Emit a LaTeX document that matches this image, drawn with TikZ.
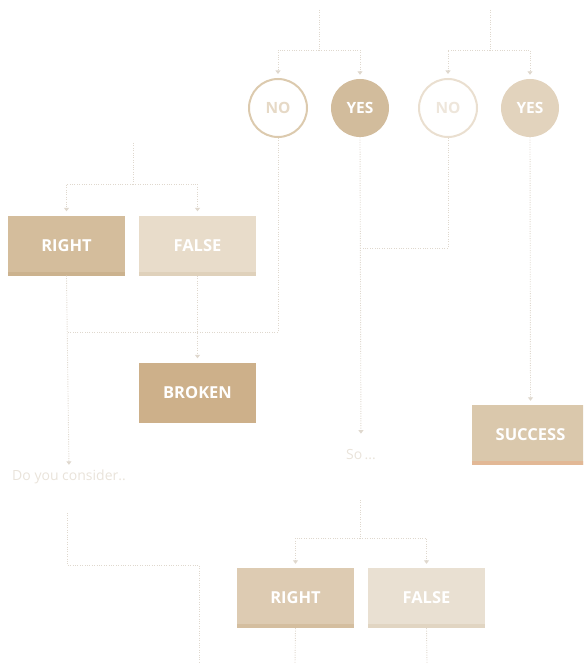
\documentclass[tikz,border=0pt]{standalone}
\usepackage{fontspec}
\setmainfont{Open Sans}
\usetikzlibrary{arrows.meta}
\definecolor{lnC}{HTML}{DFD8CE}
\definecolor{noA}{HTML}{DCCAAE}
\definecolor{noAtxt}{HTML}{E6D9C6}
\definecolor{yesA}{HTML}{D2BC9C}
\definecolor{noB}{HTML}{EADFD0}
\definecolor{noBtxt}{HTML}{EEE6DB}
\definecolor{yesB}{HTML}{E2D3BD}
\definecolor{rightA}{HTML}{D4BD9C}
\definecolor{rightAs}{HTML}{CBB28E}
\definecolor{falseA}{HTML}{E8DCCA}
\definecolor{falseAs}{HTML}{DFD1BB}
\definecolor{brokenC}{HTML}{CDB08A}
\definecolor{succC}{HTML}{DAC8AC}
\definecolor{succS}{HTML}{E2B896}
\definecolor{rightB}{HTML}{DDCBB2}
\definecolor{rightBs}{HTML}{D4BE9F}
\definecolor{falseB}{HTML}{E9E0D2}
\definecolor{falseBs}{HTML}{E1D5C2}
\definecolor{softtxt}{HTML}{E9E3DA}
\tikzset{
  conn/.style={draw=lnC, line width=0.9pt, dash pattern=on 1pt off 1.4pt},
  arr/.style={conn, -{Triangle[width=5pt,length=3.5pt,fill=lnC]}, shorten >=4pt},
  circ/.style={circle, minimum size=58pt, inner sep=0pt, font=\fontsize{15.5}{17}\selectfont\bfseries, text=white},
  boxs/.style={rectangle, minimum width=117pt, minimum height=60pt, inner sep=0pt, font=\fontsize{16.5}{19}\selectfont\bfseries, text=white},
  soft/.style={font=\fontsize{14}{16}\selectfont, text=softtxt, inner sep=1pt}
}
\begin{document}
\begin{tikzpicture}[x=1pt,y=-1pt]
\useasboundingbox (0,0) rectangle (583,663);
\clip (0,0) rectangle (583,663);
% circles
\node[circ, draw=noA, line width=2pt, text=noAtxt] (c1) at (278,108) {NO};
\node[circ, fill=yesA] (c2) at (360,108) {YES};
\node[circ, draw=noB, line width=2pt, text=noBtxt] (c3) at (448,108) {NO};
\node[circ, fill=yesB] (c4) at (530,108) {YES};
% boxes
\node[boxs, fill=rightA] (r1) at (66.5,245.5) {RIGHT};
\fill[rightAs] (r1.south west) rectangle ++(117,-4);
\node[boxs, fill=falseA] (f1) at (197.5,245.5) {FALSE};
\fill[falseAs] (f1.south west) rectangle ++(117,-4);
\node[boxs, fill=brokenC] (br) at (197.5,392.5) {BROKEN};
\node[boxs, fill=succC] (sc) at (530.5,435) {SUCCESS};
\fill[succS] (sc.south west) rectangle ++(117,-4);
\node[boxs, fill=rightB] (r2) at (295.5,598) {RIGHT};
\fill[rightBs] (r2.south west) rectangle ++(117,-4);
\node[boxs, fill=falseB] (f2) at (426.5,598) {FALSE};
\fill[falseBs] (f2.south west) rectangle ++(117,-4);
% texts
\node[soft] (dy) at (69,477) {Do you consider..};
\node[soft] (so) at (361,455) {So\,...};
% coordinates
\coordinate (t1) at (319,10);
\coordinate (j1) at (319,50);
\coordinate (t2) at (490,10);
\coordinate (j2) at (490,50);
\coordinate (l1) at (133,143);
\coordinate (j3) at (133,184);
\coordinate (m1) at (67,332);
\coordinate (m2) at (360,248);
\coordinate (d1) at (67,513);
\coordinate (d2) at (199,565);
\coordinate (b1) at (199,663);
\coordinate (s1) at (360,500);
\coordinate (s2) at (360,538);
\coordinate (b2) at (295,663);
\coordinate (b3) at (427,663);
% connectors
\draw[conn] (t1) -- (j1);
\draw[arr] (j1) -| (c1.north);
\draw[arr] (j1) -| (c2.north);
\draw[conn] (t2) -- (j2);
\draw[arr] (j2) -| (c3.north);
\draw[arr] (j2) -| (c4.north);
\draw[conn] (l1) -- (j3);
\draw[arr] (j3) -| (r1.north);
\draw[arr] (j3) -| (f1.north);
\draw[conn] (c1.south) |- (m1);
\draw[arr] (r1.south) -- (dy.north);
\draw[arr] (f1.south) -- (br.north);
\draw[conn] (c3.south) |- (m2);
\draw[arr, shorten >=15pt] (c2.south) -- (so.north);
\draw[arr] (c4.south) -- (sc.north);
\draw[conn] (d1) |- (d2) -- (b1);
\draw[conn] (s1) -- (s2);
\draw[arr] (s2) -| (r2.north);
\draw[arr] (s2) -| (f2.north);
\draw[conn] (r2.south) -- (b2);
\draw[conn] (f2.south) -- (b3);
\end{tikzpicture}
\end{document}
